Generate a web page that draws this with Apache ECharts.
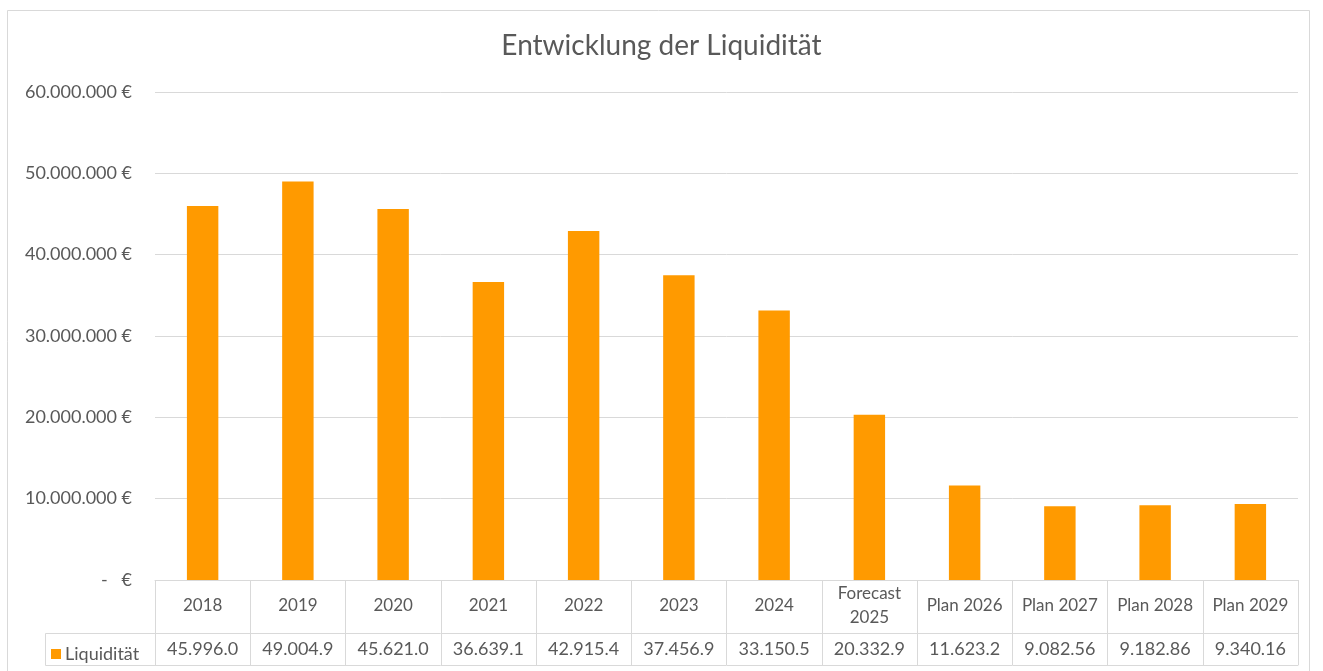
<!DOCTYPE html>
<html>
<head>
<meta charset="utf-8">
<script src="https://cdn.jsdelivr.net/npm/echarts@6/dist/echarts.min.js"></script>
<style>
  html, body { margin: 0; padding: 0; background: #fff; }
  #chart { width: 1323px; height: 671px; }
</style>
</head>
<body>
<div id="chart"></div>
<script>
// Kategorien (Kopfzeile der Datentabelle)
var categories = ['2018', '2019', '2020', '2021', '2022', '2023', '2024',
    'Forecast\n2025', 'Plan 2026', 'Plan 2027', 'Plan 2028', 'Plan 2029'];

// Liquidität in Euro
var liquiditaet = [45996000, 49004900, 45621000, 36639100, 42915400, 37456900,
    33150500, 20332900, 11623200, 9082560, 9182860, 9340160];

// so wie die Tabelle die Werte zeigt
var tableLabels = ['45.996.0', '49.004.9', '45.621.0', '36.639.1', '42.915.4', '37.456.9',
    '33.150.5', '20.332.9', '11.623.2', '9.082.56', '9.182.86', '9.340.16'];

var yTicks = [0, 10000000, 20000000, 30000000, 40000000, 50000000, 60000000];

var gridColor = '#d9d9d9';
var textColor = '#595959';
var font = 'Lato';

function euro(v) {
    if (v === 0) return '-   €';
    return String(v).replace(/\B(?=(\d{3})+(?!\d))/g, '.') + ' €';
}

var chart = echarts.init(document.getElementById('chart'));

option = {
    backgroundColor: '#fff',
    animation: false,
    title: {
        text: 'Entwicklung der Liquidität',
        left: 'center',
        top: 27,
        textStyle: { color: textColor, fontSize: 28, fontWeight: 'normal', fontFamily: font }
    },
    legend: {
        left: 46,
        top: 640,
        itemWidth: 10,
        itemHeight: 10,
        itemGap: 5,
        icon: 'rect',
        textStyle: { color: textColor, fontSize: 18, fontFamily: font, padding: [0, 0, 0, -1] },
        data: ['Liquidität']
    },
    grid: { left: 155, right: 25, top: 92, bottom: 91 },
    xAxis: [
        {
            type: 'category',
            data: categories,
            position: 'bottom',
            axisLine: { lineStyle: { color: gridColor, width: 1 } },
            axisTick: { show: true, length: 85, interval: 0, lineStyle: { color: gridColor } },
            axisLabel: {
                interval: 0, color: textColor, fontSize: 17, fontFamily: font,
                verticalAlign: 'middle', margin: 26, lineHeight: 24
            }
        },
        {
            type: 'category',
            data: tableLabels,
            position: 'bottom',
            offset: 53,
            axisLine: { lineStyle: { color: gridColor, width: 1 } },
            axisTick: { show: false },
            axisLabel: {
                interval: 0, color: textColor, fontSize: 18, fontFamily: font,
                verticalAlign: 'middle', margin: 16
            }
        },
        {
            type: 'category',
            data: categories,
            position: 'bottom',
            offset: 85,
            axisLine: { lineStyle: { color: gridColor, width: 1 } },
            axisTick: { show: false },
            axisLabel: { show: false }
        }
    ],
    yAxis: {
        type: 'value',
        min: yTicks[0],
        max: yTicks[yTicks.length - 1],
        interval: yTicks[1] - yTicks[0],
        axisLine: { show: false },
        axisTick: { show: false },
        splitLine: { lineStyle: { color: gridColor, width: 1 } },
        axisLabel: {
            color: textColor, fontSize: 18, fontFamily: font, margin: 23,
            formatter: euro
        }
    },
    graphic: [
        // Rahmen um das Diagramm
        { type: 'rect', shape: { x: 7.5, y: 10.5, width: 1302, height: 680 },
          style: { fill: 'none', stroke: gridColor, lineWidth: 1 }, silent: true },
        // Legendenzelle der Tabelle
        { type: 'rect', shape: { x: 45.5, y: 633.5, width: 110, height: 32 },
          style: { fill: 'none', stroke: gridColor, lineWidth: 1 }, silent: true }
    ],
    series: [
        {
            name: 'Liquidität',
            type: 'bar',
            data: liquiditaet,
            barWidth: '33%',
            itemStyle: { color: '#ff9a00' }
        }
    ]
};

chart.setOption(option);
</script>
</body>
</html>
